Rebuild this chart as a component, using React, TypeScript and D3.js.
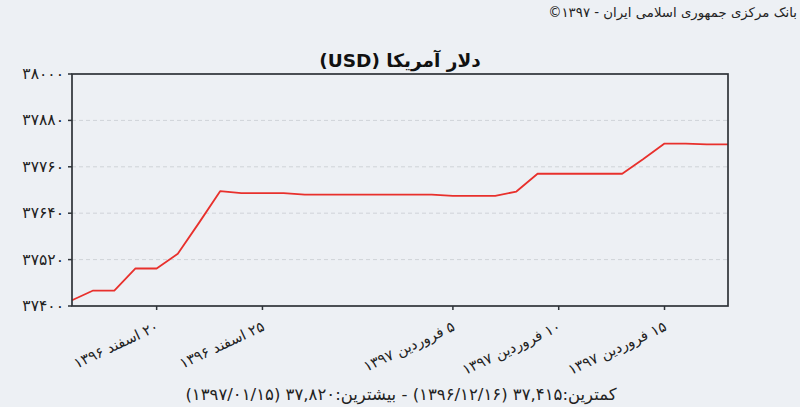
import React from "react";
import * as d3 from "d3";

const dayIndex = [0, 1, 2, 3, 4, 5, 6, 7, 8, 9, 10, 11, 12, 13, 14, 15, 16, 17, 18, 19, 20, 21, 22, 23, 24, 25, 26, 27, 28, 29, 30, 31];
const rateValues = [37415, 37440, 37440, 37497, 37497, 37535, 37615, 37697, 37692, 37692, 37692, 37688, 37688, 37688, 37688, 37688, 37688, 37688, 37685, 37685, 37685, 37696, 37742, 37742, 37742, 37742, 37742, 37780, 37820, 37820, 37818, 37818];

const yTickValues = [37400, 37520, 37640, 37760, 37880, 38000];
const yTickLabels = ["۳۷۴۰۰", "۳۷۵۲۰", "۳۷۶۴۰", "۳۷۷۶۰", "۳۷۸۸۰", "۳۸۰۰۰"];
const xTickDays = [4, 9, 18, 23, 28];
const xTickLabels = ["۲۰ اسفند ۱۳۹۶", "۲۵ اسفند ۱۳۹۶", "۵ فروردین ۱۳۹۷", "۱۰ فروردین ۱۳۹۷", "۱۵ فروردین ۱۳۹۷"];

const titleText = "دلار آمریکا (USD)";
const sourceText = "بانک مرکزی جمهوری اسلامی ایران - ۱۳۹۷©";
const summaryText = "کمترین:۳۷,۴۱۵ (۱۳۹۶/۱۲/۱۶) - بیشترین:۳۷,۸۲۰ (۱۳۹۷/۰۱/۱۵)";

const W = 800;
const H = 407;
const left = 72;
const right = 728;
const top = 74;
const bottom = 306;

export default function App() {
  const x = d3.scaleLinear().domain([0, 31]).range([left, right]);
  const y = d3.scaleLinear().domain([37400, 38000]).range([bottom, top]);
  const pts: [number, number][] = dayIndex.map((d, i) => [d, rateValues[i]]);
  const line = d3
    .line<[number, number]>()
    .x((d) => x(d[0]))
    .y((d) => y(d[1]));
  const font = "'DejaVu Sans', sans-serif";

  return (
    <svg
      width={W}
      height={H}
      style={{ position: "absolute", left: 0, top: 0, display: "block" }}
    >
      <rect x={0} y={0} width={W} height={H} fill="#edf0f4" />
      <text
        x={797}
        y={17}
        direction="rtl"
        textAnchor="start"
        fontFamily={font}
        fontSize={13.3}
        fill="#222"
      >
        {sourceText}
      </text>
      <text
        x={400}
        y={67}
        direction="rtl"
        textAnchor="middle"
        fontFamily={font}
        fontSize={18.5}
        fontWeight="bold"
        fill="#111"
      >
        {titleText}
      </text>

      {yTickValues.slice(1, -1).map((v) => (
        <line
          key={"g" + v}
          x1={left}
          x2={right}
          y1={y(v)}
          y2={y(v)}
          stroke="#cfd3d8"
          strokeWidth={1}
          strokeDasharray="4,3"
        />
      ))}

      <path
        d={line(pts) || ""}
        fill="none"
        stroke="#e8302c"
        strokeWidth={1.8}
        strokeLinejoin="round"
      />

      <rect
        x={left}
        y={top}
        width={right - left}
        height={bottom - top}
        fill="none"
        stroke="#2e3338"
        strokeWidth={1.7}
      />

      {yTickValues.map((v, i) => (
        <g key={"y" + v}>
          <line x1={left - 4} x2={left} y1={y(v)} y2={y(v)} stroke="#2e3338" strokeWidth={1.5} />
          <text
            x={left - 8}
            y={y(v) + 5}
            textAnchor="end"
            fontFamily={font}
            fontSize={15.5}
            fill="#222"
          >
            {yTickLabels[i]}
          </text>
        </g>
      ))}

      {xTickDays.map((d, i) => (
        <g key={"x" + d}>
          <line x1={x(d)} x2={x(d)} y1={bottom} y2={bottom + 4} stroke="#2e3338" strokeWidth={1.5} />
          <text
            transform={`translate(${x(d) + 3},${bottom + 24}) rotate(-25)`}
            direction="rtl"
            textAnchor="start"
            fontFamily={font}
            fontSize={14.5}
            fill="#222"
          >
            {xTickLabels[i]}
          </text>
        </g>
      ))}

      <text
        x={401}
        y={400}
        direction="rtl"
        textAnchor="middle"
        fontFamily={font}
        fontSize={16.5}
        fill="#222"
      >
        {summaryText}
      </text>
    </svg>
  );
}
